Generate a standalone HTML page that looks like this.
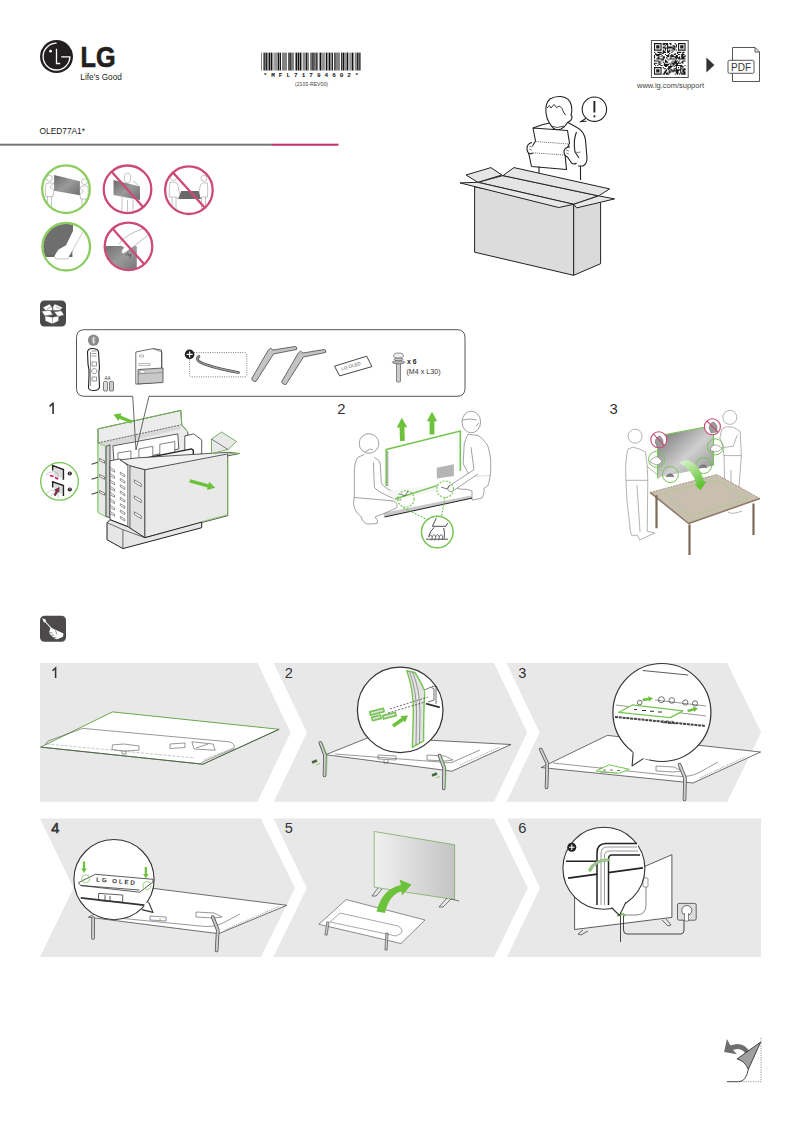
<!DOCTYPE html>
<html><head><meta charset="utf-8">
<style>
html,body{margin:0;padding:0;background:#fff;}
body{width:802px;height:1122px;overflow:hidden;position:relative;font-family:"Liberation Sans",sans-serif;}
svg{position:absolute;left:0;top:0;}
</style></head>
<body>
<svg width="802" height="1122" viewBox="0 0 802 1122" font-family="Liberation Sans, sans-serif">
<!-- ===== HEADER ===== -->
<g id="logo">
  <circle cx="56.5" cy="56.6" r="16.5" fill="#231f20"/>
  <path d="M56.6 43.2 A13.4 13.4 0 1 0 69.9 56.8 L61.2 56.8" fill="none" stroke="#fff" stroke-width="1.3"/>
  <circle cx="50.6" cy="51.2" r="1.4" fill="#fff"/>
  <path d="M56.5 48.8 V63.5 H60.2" fill="none" stroke="#fff" stroke-width="1.3"/>
  <text x="80.5" y="66.9" font-size="29.5" font-weight="bold" fill="#231f20" stroke="#231f20" stroke-width="0.7" textLength="35" lengthAdjust="spacingAndGlyphs">LG</text>
  <text x="80.3" y="79.8" font-size="8.6" fill="#231f20" textLength="41.6" lengthAdjust="spacingAndGlyphs">Life’s Good</text>
</g>
<g id="barcode"><g fill="#111"><rect x="261.30" y="52.6" width="0.52" height="17.9"/><rect x="263.17" y="52.6" width="0.52" height="17.9"/><rect x="264.21" y="52.6" width="1.35" height="17.9"/><rect x="266.08" y="52.6" width="1.35" height="17.9"/><rect x="267.95" y="52.6" width="0.52" height="17.9"/><rect x="268.99" y="52.6" width="1.35" height="17.9"/><rect x="270.87" y="52.6" width="1.35" height="17.9"/><rect x="272.74" y="52.6" width="0.52" height="17.9"/><rect x="274.61" y="52.6" width="0.52" height="17.9"/><rect x="275.65" y="52.6" width="0.52" height="17.9"/><rect x="276.69" y="52.6" width="0.52" height="17.9"/><rect x="277.73" y="52.6" width="1.35" height="17.9"/><rect x="279.60" y="52.6" width="1.35" height="17.9"/><rect x="282.30" y="52.6" width="0.52" height="17.9"/><rect x="283.34" y="52.6" width="0.52" height="17.9"/><rect x="284.38" y="52.6" width="0.52" height="17.9"/><rect x="285.42" y="52.6" width="0.52" height="17.9"/><rect x="286.46" y="52.6" width="0.52" height="17.9"/><rect x="288.33" y="52.6" width="1.35" height="17.9"/><rect x="290.20" y="52.6" width="1.35" height="17.9"/><rect x="292.08" y="52.6" width="0.52" height="17.9"/><rect x="293.12" y="52.6" width="0.52" height="17.9"/><rect x="294.99" y="52.6" width="0.52" height="17.9"/><rect x="296.03" y="52.6" width="1.35" height="17.9"/><rect x="297.90" y="52.6" width="1.35" height="17.9"/><rect x="299.77" y="52.6" width="1.35" height="17.9"/><rect x="301.64" y="52.6" width="0.52" height="17.9"/><rect x="303.51" y="52.6" width="0.52" height="17.9"/><rect x="304.55" y="52.6" width="0.52" height="17.9"/><rect x="305.59" y="52.6" width="1.35" height="17.9"/><rect x="307.46" y="52.6" width="0.52" height="17.9"/><rect x="308.50" y="52.6" width="0.52" height="17.9"/><rect x="310.37" y="52.6" width="0.52" height="17.9"/><rect x="311.41" y="52.6" width="1.35" height="17.9"/><rect x="313.29" y="52.6" width="1.35" height="17.9"/><rect x="315.16" y="52.6" width="0.52" height="17.9"/><rect x="316.20" y="52.6" width="1.35" height="17.9"/><rect x="318.90" y="52.6" width="0.52" height="17.9"/><rect x="319.94" y="52.6" width="1.35" height="17.9"/><rect x="321.81" y="52.6" width="0.52" height="17.9"/><rect x="322.85" y="52.6" width="0.52" height="17.9"/><rect x="323.89" y="52.6" width="0.52" height="17.9"/><rect x="325.76" y="52.6" width="1.35" height="17.9"/><rect x="327.63" y="52.6" width="0.52" height="17.9"/><rect x="328.67" y="52.6" width="1.35" height="17.9"/><rect x="330.54" y="52.6" width="0.52" height="17.9"/><rect x="331.58" y="52.6" width="1.35" height="17.9"/><rect x="334.29" y="52.6" width="1.35" height="17.9"/><rect x="336.16" y="52.6" width="0.52" height="17.9"/><rect x="337.20" y="52.6" width="0.52" height="17.9"/><rect x="338.24" y="52.6" width="0.52" height="17.9"/><rect x="339.28" y="52.6" width="0.52" height="17.9"/><rect x="341.15" y="52.6" width="1.35" height="17.9"/><rect x="343.02" y="52.6" width="1.35" height="17.9"/><rect x="344.89" y="52.6" width="0.52" height="17.9"/><rect x="345.93" y="52.6" width="0.52" height="17.9"/><rect x="346.97" y="52.6" width="1.35" height="17.9"/><rect x="349.68" y="52.6" width="0.52" height="17.9"/><rect x="350.71" y="52.6" width="0.52" height="17.9"/><rect x="351.75" y="52.6" width="1.35" height="17.9"/><rect x="353.63" y="52.6" width="0.52" height="17.9"/><rect x="355.50" y="52.6" width="0.52" height="17.9"/><rect x="356.54" y="52.6" width="1.35" height="17.9"/><rect x="358.41" y="52.6" width="1.35" height="17.9"/><rect x="360.28" y="52.6" width="0.52" height="17.9"/></g>
  <text x="263.6" y="76.7" font-size="6" font-family="Liberation Mono, monospace" font-weight="bold" fill="#111" textLength="95" lengthAdjust="spacing">*MFL71794602*</text>
  <text x="295" y="85.5" font-size="5.6" fill="#444" textLength="33" lengthAdjust="spacingAndGlyphs">(2103-REV00)</text>
</g>
<g id="qr"><rect x="651.4" y="40.5" width="36.8" height="37" fill="none" stroke="#555" stroke-width="1"/><path fill="#1a1a1a" d="M654.0 43.1h7.6v1.09h-7.6zM662.7 43.1h5.4v1.09h-5.4zM669.3 43.1h2.2v1.09h-2.2zM674.7 43.1h1.1v1.09h-1.1zM678.0 43.1h7.6v1.09h-7.6zM654.0 44.2h1.1v1.09h-1.1zM660.5 44.2h1.1v1.09h-1.1zM662.7 44.2h2.2v1.09h-2.2zM666.0 44.2h2.2v1.09h-2.2zM670.3 44.2h1.1v1.09h-1.1zM675.8 44.2h1.1v1.09h-1.1zM678.0 44.2h1.1v1.09h-1.1zM684.5 44.2h1.1v1.09h-1.1zM654.0 45.3h1.1v1.09h-1.1zM656.2 45.3h3.3v1.09h-3.3zM660.5 45.3h1.1v1.09h-1.1zM664.9 45.3h1.1v1.09h-1.1zM667.1 45.3h1.1v1.09h-1.1zM672.5 45.3h2.2v1.09h-2.2zM675.8 45.3h1.1v1.09h-1.1zM678.0 45.3h1.1v1.09h-1.1zM680.2 45.3h3.3v1.09h-3.3zM684.5 45.3h1.1v1.09h-1.1zM654.0 46.4h1.1v1.09h-1.1zM656.2 46.4h3.3v1.09h-3.3zM660.5 46.4h1.1v1.09h-1.1zM662.7 46.4h2.2v1.09h-2.2zM667.1 46.4h5.4v1.09h-5.4zM673.6 46.4h3.3v1.09h-3.3zM678.0 46.4h1.1v1.09h-1.1zM680.2 46.4h3.3v1.09h-3.3zM684.5 46.4h1.1v1.09h-1.1zM654.0 47.5h1.1v1.09h-1.1zM656.2 47.5h3.3v1.09h-3.3zM660.5 47.5h1.1v1.09h-1.1zM662.7 47.5h12.0v1.09h-12.0zM678.0 47.5h1.1v1.09h-1.1zM680.2 47.5h3.3v1.09h-3.3zM684.5 47.5h1.1v1.09h-1.1zM654.0 48.5h1.1v1.09h-1.1zM660.5 48.5h1.1v1.09h-1.1zM664.9 48.5h1.1v1.09h-1.1zM667.1 48.5h1.1v1.09h-1.1zM672.5 48.5h3.3v1.09h-3.3zM678.0 48.5h1.1v1.09h-1.1zM684.5 48.5h1.1v1.09h-1.1zM654.0 49.6h7.6v1.09h-7.6zM662.7 49.6h1.1v1.09h-1.1zM664.9 49.6h1.1v1.09h-1.1zM667.1 49.6h1.1v1.09h-1.1zM669.3 49.6h1.1v1.09h-1.1zM671.4 49.6h1.1v1.09h-1.1zM673.6 49.6h1.1v1.09h-1.1zM675.8 49.6h1.1v1.09h-1.1zM678.0 49.6h7.6v1.09h-7.6zM662.7 50.7h2.2v1.09h-2.2zM667.1 50.7h3.3v1.09h-3.3zM672.5 50.7h1.1v1.09h-1.1zM654.0 51.8h1.1v1.09h-1.1zM657.3 51.8h4.4v1.09h-4.4zM662.7 51.8h3.3v1.09h-3.3zM667.1 51.8h2.2v1.09h-2.2zM671.4 51.8h1.1v1.09h-1.1zM676.9 51.8h4.4v1.09h-4.4zM682.3 51.8h2.2v1.09h-2.2zM655.1 52.9h1.1v1.09h-1.1zM659.4 52.9h1.1v1.09h-1.1zM661.6 52.9h2.2v1.09h-2.2zM669.3 52.9h1.1v1.09h-1.1zM674.7 52.9h1.1v1.09h-1.1zM676.9 52.9h1.1v1.09h-1.1zM682.3 52.9h1.1v1.09h-1.1zM655.1 54.0h6.5v1.09h-6.5zM664.9 54.0h1.1v1.09h-1.1zM668.2 54.0h1.1v1.09h-1.1zM671.4 54.0h1.1v1.09h-1.1zM673.6 54.0h2.2v1.09h-2.2zM678.0 54.0h2.2v1.09h-2.2zM681.2 54.0h3.3v1.09h-3.3zM654.0 55.1h1.1v1.09h-1.1zM656.2 55.1h3.3v1.09h-3.3zM661.6 55.1h1.1v1.09h-1.1zM666.0 55.1h3.3v1.09h-3.3zM670.3 55.1h3.3v1.09h-3.3zM675.8 55.1h2.2v1.09h-2.2zM681.2 55.1h2.2v1.09h-2.2zM684.5 55.1h1.1v1.09h-1.1zM654.0 56.2h1.1v1.09h-1.1zM658.4 56.2h1.1v1.09h-1.1zM660.5 56.2h1.1v1.09h-1.1zM662.7 56.2h2.2v1.09h-2.2zM667.1 56.2h2.2v1.09h-2.2zM670.3 56.2h7.6v1.09h-7.6zM679.1 56.2h1.1v1.09h-1.1zM681.2 56.2h4.4v1.09h-4.4zM654.0 57.3h1.1v1.09h-1.1zM657.3 57.3h2.2v1.09h-2.2zM662.7 57.3h2.2v1.09h-2.2zM666.0 57.3h1.1v1.09h-1.1zM670.3 57.3h1.1v1.09h-1.1zM674.7 57.3h5.4v1.09h-5.4zM681.2 57.3h3.3v1.09h-3.3zM656.2 58.4h7.6v1.09h-7.6zM667.1 58.4h1.1v1.09h-1.1zM669.3 58.4h5.4v1.09h-5.4zM675.8 58.4h1.1v1.09h-1.1zM678.0 58.4h7.6v1.09h-7.6zM654.0 59.4h1.1v1.09h-1.1zM661.6 59.4h2.2v1.09h-2.2zM664.9 59.4h1.1v1.09h-1.1zM668.2 59.4h1.1v1.09h-1.1zM674.7 59.4h1.1v1.09h-1.1zM654.0 60.5h5.4v1.09h-5.4zM660.5 60.5h1.1v1.09h-1.1zM664.9 60.5h2.2v1.09h-2.2zM672.5 60.5h1.1v1.09h-1.1zM674.7 60.5h3.3v1.09h-3.3zM679.1 60.5h1.1v1.09h-1.1zM682.3 60.5h3.3v1.09h-3.3zM658.4 61.6h2.2v1.09h-2.2zM662.7 61.6h1.1v1.09h-1.1zM664.9 61.6h3.3v1.09h-3.3zM671.4 61.6h1.1v1.09h-1.1zM673.6 61.6h3.3v1.09h-3.3zM678.0 61.6h1.1v1.09h-1.1zM681.2 61.6h2.2v1.09h-2.2zM654.0 62.7h3.3v1.09h-3.3zM658.4 62.7h1.1v1.09h-1.1zM660.5 62.7h1.1v1.09h-1.1zM663.8 62.7h1.1v1.09h-1.1zM669.3 62.7h1.1v1.09h-1.1zM671.4 62.7h9.8v1.09h-9.8zM682.3 62.7h1.1v1.09h-1.1zM654.0 63.8h1.1v1.09h-1.1zM658.4 63.8h2.2v1.09h-2.2zM663.8 63.8h5.4v1.09h-5.4zM670.3 63.8h1.1v1.09h-1.1zM672.5 63.8h2.2v1.09h-2.2zM675.8 63.8h2.2v1.09h-2.2zM655.1 64.9h1.1v1.09h-1.1zM657.3 64.9h1.1v1.09h-1.1zM660.5 64.9h2.2v1.09h-2.2zM663.8 64.9h4.4v1.09h-4.4zM670.3 64.9h1.1v1.09h-1.1zM672.5 64.9h1.1v1.09h-1.1zM674.7 64.9h7.6v1.09h-7.6zM684.5 64.9h1.1v1.09h-1.1zM664.9 66.0h2.2v1.09h-2.2zM668.2 66.0h4.4v1.09h-4.4zM673.6 66.0h1.1v1.09h-1.1zM675.8 66.0h1.1v1.09h-1.1zM680.2 66.0h3.3v1.09h-3.3zM654.0 67.1h7.6v1.09h-7.6zM662.7 67.1h1.1v1.09h-1.1zM668.2 67.1h3.3v1.09h-3.3zM675.8 67.1h1.1v1.09h-1.1zM678.0 67.1h1.1v1.09h-1.1zM680.2 67.1h1.1v1.09h-1.1zM682.3 67.1h1.1v1.09h-1.1zM654.0 68.2h1.1v1.09h-1.1zM660.5 68.2h1.1v1.09h-1.1zM663.8 68.2h2.2v1.09h-2.2zM667.1 68.2h3.3v1.09h-3.3zM673.6 68.2h3.3v1.09h-3.3zM680.2 68.2h2.2v1.09h-2.2zM683.4 68.2h2.2v1.09h-2.2zM654.0 69.3h1.1v1.09h-1.1zM656.2 69.3h3.3v1.09h-3.3zM660.5 69.3h1.1v1.09h-1.1zM666.0 69.3h1.1v1.09h-1.1zM668.2 69.3h1.1v1.09h-1.1zM670.3 69.3h2.2v1.09h-2.2zM673.6 69.3h1.1v1.09h-1.1zM675.8 69.3h5.4v1.09h-5.4zM682.3 69.3h3.3v1.09h-3.3zM654.0 70.3h1.1v1.09h-1.1zM656.2 70.3h3.3v1.09h-3.3zM660.5 70.3h1.1v1.09h-1.1zM664.9 70.3h2.2v1.09h-2.2zM669.3 70.3h1.1v1.09h-1.1zM671.4 70.3h7.6v1.09h-7.6zM680.2 70.3h1.1v1.09h-1.1zM682.3 70.3h2.2v1.09h-2.2zM654.0 71.4h1.1v1.09h-1.1zM656.2 71.4h3.3v1.09h-3.3zM660.5 71.4h1.1v1.09h-1.1zM663.8 71.4h2.2v1.09h-2.2zM668.2 71.4h3.3v1.09h-3.3zM672.5 71.4h1.1v1.09h-1.1zM675.8 71.4h2.2v1.09h-2.2zM680.2 71.4h1.1v1.09h-1.1zM682.3 71.4h3.3v1.09h-3.3zM654.0 72.5h1.1v1.09h-1.1zM660.5 72.5h1.1v1.09h-1.1zM663.8 72.5h4.4v1.09h-4.4zM669.3 72.5h1.1v1.09h-1.1zM675.8 72.5h3.3v1.09h-3.3zM680.2 72.5h2.2v1.09h-2.2zM683.4 72.5h2.2v1.09h-2.2zM654.0 73.6h7.6v1.09h-7.6zM662.7 73.6h2.2v1.09h-2.2zM666.0 73.6h3.3v1.09h-3.3zM674.7 73.6h1.1v1.09h-1.1zM676.9 73.6h1.1v1.09h-1.1zM679.1 73.6h1.1v1.09h-1.1zM681.2 73.6h4.4v1.09h-4.4z"/>
  <text x="637" y="88.4" font-size="7.6" fill="#444" textLength="67" lengthAdjust="spacingAndGlyphs">www.lg.com/support</text>
  <polygon points="706.4,57.6 714.4,65 706.4,72.4" fill="#333"/>
  <path d="M732.5 47.5 H755 L759.5 52 V81.5 H732.5 Z" fill="#fff" stroke="#444" stroke-width="0.9"/>
  <path d="M755 47.5 V52 H759.5" fill="none" stroke="#444" stroke-width="0.9"/>
  <rect x="728" y="60.3" width="26" height="13" rx="1.5" fill="#fff" stroke="#444" stroke-width="0.9"/>
  <text x="731" y="70.6" font-size="10" fill="#333" textLength="20" lengthAdjust="spacingAndGlyphs">PDF</text>
</g>
<text x="39.5" y="134.1" font-size="9.6" fill="#222" textLength="45.5" lengthAdjust="spacingAndGlyphs">OLED77A1*</text>
<rect x="0" y="143.7" width="272" height="2" fill="#777"/>
<rect x="271.8" y="143.7" width="66.7" height="2" fill="#c0306a"/>

<!-- ===== SAFETY ICONS ===== -->
<g id="icons">
  <defs>
    <clipPath id="c1"><circle cx="66" cy="189.2" r="23"/></clipPath>
    <clipPath id="c2"><circle cx="127.5" cy="189.3" r="23"/></clipPath>
    <clipPath id="c3"><circle cx="188.9" cy="190.2" r="23"/></clipPath>
    <clipPath id="c4"><circle cx="66.2" cy="246.7" r="23"/></clipPath>
    <clipPath id="c5"><circle cx="128.5" cy="246.4" r="23"/></clipPath>
    <linearGradient id="tvg" x1="0" y1="0" x2="1" y2="1">
      <stop offset="0" stop-color="#6a6a6a"/><stop offset="0.5" stop-color="#9a9a9a"/><stop offset="1" stop-color="#6e6e6e"/>
    </linearGradient>
  </defs>
  <!-- icon 1 -->
  <g clip-path="url(#c1)">
    <g fill="#fff" stroke="#8a8a8a" stroke-width="0.5">
      <circle cx="49.5" cy="178.3" r="3"/>
      <path d="M46 183.5 Q45 190 45.5 196.5 H53 L54 190 L50 187 L54 183.5 Q51 182 46 183.5 Z M47.5 196.5 V212 M51.5 196.5 V212"/>
      <circle cx="84.5" cy="181.7" r="3"/>
      <path d="M81 186.5 Q87 185 88 187 Q88.5 193 88 199 H80.5 L80 194 L83.5 191 L80 188 Z M82 199 V212 M86 199 V212"/>
    </g>
    <polygon points="54.1,175 79.9,181.3 79.9,195.2 54.1,190.7" fill="url(#tvg)"/>
  </g>
  <circle cx="66" cy="189.2" r="23.8" fill="none" stroke="#8ccd62" stroke-width="2.3"/>
  <!-- icon 2 -->
  <g clip-path="url(#c2)">
    <g fill="none" stroke="#8a8a8a" stroke-width="0.5">
      <path d="M124.5 180 q-1-7 3-7 q4 0 3 7 q-1 3-3 3 q-2 0-3-3 M122 181 l-3 2 M133 181 l3 2 l3 4 M122 197 v16 M133 199 v14 M127.5 200 v13"/>
    </g>
    <polygon points="113.5,180 140,186.5 140,200 113.5,195" fill="url(#tvg)"/>
  </g>
  <circle cx="127.5" cy="189.3" r="23.8" fill="none" stroke="#cc4a74" stroke-width="2.3"/>
  <line x1="111.2" y1="171.2" x2="143.5" y2="207.5" stroke="#cc4a74" stroke-width="2.3"/>
  <!-- icon 3 -->
  <g clip-path="url(#c3)">
    <g fill="#fff" stroke="#8a8a8a" stroke-width="0.5">
      <circle cx="173.5" cy="177.7" r="3"/>
      <path d="M170 182.5 Q176 181.5 177.5 184 L180 195 L178 199 L176 197 H169.3 Q169 190 170 182.5 Z M172 197 V212 M176 197 V212"/>
      <circle cx="203.9" cy="178.4" r="3"/>
      <path d="M207.4 183 Q202 182 200.5 184.5 L198.5 195 L200.5 199 L202 197 H207.5 Q208 190 207.4 183 Z M201.5 197 V212 M205.5 197 V212"/>
    </g>
    <polygon points="181.2,191 198.7,191 200.8,199 178.4,199" fill="#6a6a6a"/>
  </g>
  <circle cx="188.9" cy="190.2" r="23.8" fill="none" stroke="#cc4a74" stroke-width="2.3"/>
  <line x1="172.5" y1="172" x2="205.5" y2="208.5" stroke="#cc4a74" stroke-width="2.3"/>
  <!-- icon 4 -->
  <g clip-path="url(#c4)">
    <polygon points="40,220 73,220 73,231 66,245.3 58.2,249.8 54.3,256.3 40,256.3" fill="#6e6e6e"/>
    <polygon points="69.2,256.3 72.4,250.5 72.4,256.3" fill="#6e6e6e"/>
    <path d="M40 256.3 H54.3 M69.2 256.3 H72.4" stroke="#3a3a3a" stroke-width="0.9"/>
    <path d="M82.8 232 L67.9 258.9 H57.5 Q54 258 54.3 256.3" fill="none" stroke="#888" stroke-width="0.45"/>
  </g>
  <circle cx="66.2" cy="246.7" r="23.8" fill="none" stroke="#8ccd62" stroke-width="2.3"/>
  <!-- icon 5 -->
  <g clip-path="url(#c5)">
    <polygon points="100,246.1 136.8,246.1 136.8,275 100,275" fill="url(#tvg)"/>
    <path d="M118.8 244.2 Q126 234 142.8 229 L160 225 V233 L148 235.2 L133.8 246.4 L126 252 Q122.5 255 121.5 252.5 Q121 250 124 247.5 Z" fill="#fff"/>
    <path d="M118.8 244.2 Q126 234 142.8 229 M148 235.2 L133.8 246.4 L126 252 Q122.5 255 121.5 252.5 Q121 250 124 247.5" fill="none" stroke="#777" stroke-width="0.5"/>
    <path d="M126 256 l2 -3 l1 3 l2 -2 l-1 4" fill="none" stroke="#333" stroke-width="0.5"/>
  </g>
  <circle cx="128.5" cy="246.4" r="23.8" fill="none" stroke="#cc4a74" stroke-width="2.3"/>
  <line x1="112" y1="228" x2="144.5" y2="264.5" stroke="#cc4a74" stroke-width="2.3"/>
</g>

<!-- ===== BOX + PERSON ===== -->
<g id="bigbox" stroke="#222" stroke-width="1" stroke-linejoin="round">
  <!-- person -->
  <g fill="#fff" stroke-width="1.1">
    <path d="M533 128 L543 124.5 L550 123"/>
    <path d="M567 122 L577 127.5 Q584 131 585.5 140 L587 158 Q587 164 583 166 L578 166 M580.5 166 V180 M576.5 132 Q573 140 575 152 L579 158"/>
    <path d="M574.5 152 q3 1 6 0" stroke-width="0.6"/>
    <path d="M549.5 123 q-3-4-3.5-10 q-1-10 4-14 q5-3 11-2.5 q9 1 10.5 9.5 q1 5-0.5 9 q2 2 0 5 q-2 2-3 2 q-3 5-7 7 q-7 3-11.5-6 z"/>
    <path d="M547 108 l2.5-2.5 1.5 2.5 3-3.5 2.5 3 3-1.5 q3 2 4 6 l2 3" fill="none" stroke-width="0.9"/>
    <path d="M551 126 q6 3 13 0" fill="none" stroke-width="0.8"/>
    <circle cx="594.4" cy="109.2" r="12.2" />
    <path d="M586.5 118 l-5.5 3.5 l5.5 -0.3" stroke-linejoin="miter"/>
    <path d="M594.4 101 v11.5" stroke-width="1.9"/>
    <circle cx="594.4" cy="116.3" r="1.1" fill="#222" stroke="none"/>
    <path d="M533 128 L567.5 130.5 L569.5 143 L565 154 L566.5 169.5 L531.5 166.5 L528.5 152.5 L535.5 141 Z"/>
    <path d="M535.5 141.5 L569 144 M528.5 152.5 L565 155" fill="none" stroke="#444" stroke-dasharray="1.2 0.9" stroke-width="0.7"/>
    <path d="M532 142.5 q-5 1-5 6 q0 4 3 5.5 l3-1" />
    <path d="M570 147 q-5 0-6 4 q-0.5 4 3.5 6 l4 6 q3 2 5 0" />
    <path d="M529 146 l3 1.2 M529 149 l3 1.2 M566 150 l3 1 M566 153 l3 1" fill="none" stroke-width="0.5"/>
    <path d="M539 166.5 V178" />
  </g>
  <!-- box -->
  <polygon points="474.6,186.9 474.6,252.2 573.7,275.3 573.7,204.3" fill="#dcdcdc"/>
  <polygon points="573.7,204.3 573.7,275.3 600.6,263.7 600.6,200.9" fill="#dadada"/>
  <polygon points="477.9,182.3 502.9,175.6 598.6,195.9 573.7,204.3" fill="#e4e4e4"/>
  <polygon points="502.9,175.6 513.9,167.6 609.6,188.9 598.6,195.9" fill="#e6e6e6"/>
  <polygon points="466.0,175.0 490.9,167.6 501.9,175.0 477.9,182.3" fill="#e6e6e6"/>
  <polygon points="460.0,182.9 477.9,182.3 573.7,204.3 558.7,207.5" fill="#e8e8e8"/>
  <polygon points="573.7,204.3 598.6,195.9 614.6,198.9 576.7,207.9" fill="#e8e8e8"/>
</g>

<!-- ===== UNPACK ===== -->
<g id="unpack">
  <rect x="40" y="300.5" width="26" height="26" rx="4.5" fill="#4a4a4a"/>
  <g fill="#fff" stroke="#4a4a4a" stroke-width="0.45">
    <polygon points="42.8,307.4 49.6,304.1 52.5,308 52.5,310.5 45.7,310.5"/>
    <polygon points="53,306 55,304.1 62.7,307.4 59.7,310.4 53,310.5"/>
    <polygon points="41.5,311.3 50,310.3 53,314.7 44.9,315.9"/>
    <polygon points="54,311.7 61.4,310.8 64,315.1 58,316.8"/>
    <polygon points="44.9,315.9 52.5,317.2 58.9,315.9 58.5,321 52.5,324 45.3,321"/>
    <path d="M52.5 317.2 V324 M47 309 l4 -2 M56 307 l4 1.5" fill="none"/>
  </g>
  <!-- callout -->
  <path d="M132.7 396.3 H84.5 Q76.5 396.3 76.5 388.3 V337.7 Q76.5 329.7 84.5 329.7 H457 Q465 329.7 465 337.7 V388.3 Q465 396.3 457 396.3 H149" fill="none" stroke="#555" stroke-width="1"/>
  
  <!-- remote -->
  <circle cx="93.5" cy="340.2" r="5.6" fill="#8a8a8a"/>
  <path d="M91.6 338.3 L95.2 341.8 L93.4 343.6 V336.8 L95.2 338.6 L91.6 342.1" fill="none" stroke="#fff" stroke-width="0.7"/>
  <path d="M87.5 352 Q88 348.5 92 348.5 Q98 348.5 98.5 352 L99.5 368 Q98.5 372 99 376 L99.5 387 Q99 390.5 94 390.5 Q89 390.5 88.5 388 L89 376 Q89.5 370 88 364 Z" fill="#fff" stroke="#222" stroke-width="1.1"/>
  <path d="M91.5 351 h5 M91.5 353.5 h5 M91.5 356 h5 M92 362 h4.5 v4 h-4.5 z M94.2 368.5 a2.6 2.6 0 1 0 0.1 0 M92 377 h4.5 v4 h-4.5z M90.5 352 V386" fill="none" stroke="#555" stroke-width="0.6"/>
  <rect x="103.5" y="381.5" width="4" height="9.5" rx="1" fill="#ddd" stroke="#333" stroke-width="0.6"/>
  <rect x="109.5" y="381.5" width="4" height="9.5" rx="1" fill="#ccc" stroke="#333" stroke-width="0.6"/>
  <text x="104.5" y="379.5" font-size="4.5" fill="#333">AA</text>
  <!-- manual -->
  <path d="M135.8 352 L153 348.6 L161.5 350 V382 L135.8 384.1 Z" fill="#fff" stroke="#444" stroke-width="0.8"/>
  <path d="M153 348.6 L162 352 V382" fill="none" stroke="#444" stroke-width="0.6"/>
  <path d="M139.5 355 h4 v2 h-4z M139 363.5 h11 v2 h-11z" fill="none" stroke="#777" stroke-width="0.5"/>
  <path d="M138 369.5 L163 368 V382.5 L138 384 Z" fill="#c8c8c8" stroke="#444" stroke-width="0.8"/>
  <path d="M140 370.5 h5 v2.5 h-5z" fill="#fff" stroke="#666" stroke-width="0.4"/>
  <path d="M138 374 L163 372.5" stroke="#666" stroke-width="0.5"/>
  <!-- cable holder -->
  <rect x="189.6" y="352.6" width="57.2" height="24.3" rx="2" fill="none" stroke="#444" stroke-width="0.7" stroke-dasharray="1 1.3"/>
  <circle cx="189.6" cy="354.4" r="4.8" fill="#222"/>
  <path d="M186.6 354.4 h6 M189.6 351.4 v6" stroke="#fff" stroke-width="1.2"/>
  <path d="M199 356.5 q-2 1 -1.5 3 q1 2.5 8 5 q15 5 33 8" fill="none" stroke="#333" stroke-width="2.6" stroke-linecap="round"/>
  <path d="M199 356.5 q-2 1 -1.5 3 q1 2.5 8 5 q15 5 33 8" fill="none" stroke="#999" stroke-width="1.4" stroke-linecap="round"/>
  <!-- stand legs -->
  <g stroke="#333" stroke-width="0.7" fill="#c4c4c4" stroke-linejoin="round">
    <path d="M251.5 379 L268 350.5 L270.5 348 L273 350 L295 346.5 Q298 347 296.5 349.5 L273.5 354 L256 381.5 Q253 382 251.5 379 Z"/>
    <path d="M281.5 382 L298 353.5 L300.5 351 L303 353 L324 349.5 Q327 350 325.5 352.5 L303.5 357 L286 384.5 Q283 385 281.5 382 Z"/>
  </g>
  <!-- LG OLED tag -->
  <polygon points="334.5,366.2 366.7,356.2 371.9,366.6 339.7,375.9" fill="#fff" stroke="#333" stroke-width="0.9"/>
  <text x="0" y="0" font-size="4.6" fill="#555" transform="translate(342,370.5) rotate(-17)">LG OLED</text>
  <!-- screw -->
  <g stroke="#444" stroke-width="0.6">
    <rect x="396.5" y="362" width="4" height="20" rx="1" fill="#ccc"/>
    <ellipse cx="398.5" cy="362.3" rx="6.2" ry="1.6" fill="#bbb"/>
    <ellipse cx="398.5" cy="359.3" rx="4.5" ry="1.5" fill="#ccc"/>
    <ellipse cx="398.5" cy="355.5" rx="5" ry="2.5" fill="#eee"/>
  </g>
  <text x="407" y="364.3" font-size="6.8" font-weight="bold" fill="#222">x 6</text>
  <text x="406.5" y="374" font-size="6.9" fill="#333" textLength="34" lengthAdjust="spacingAndGlyphs">(M4 x L30)</text>
</g>

<g id="sec1" stroke="#333" stroke-width="0.8" stroke-linejoin="round">
  <path d="M49.6 406.3 L53.1 403.2 V414" fill="none" stroke="#333" stroke-width="1.6"/>
  <!-- back wall -->
  <polygon points="98.0,428.9 180.8,410.4 181.8,424.9 187.8,431.9 187.8,457.9 108.0,465.8 98.0,442.9" fill="#ececec"/><path d="M98.0,511.7 L98.0,428.9 L180.8,410.4 L181.8,424.9 L187.8,431.9" fill="none" stroke="#74c551" stroke-width="0.9"/>
  <polygon points="98.0,442.9 180.8,424.9 180.8,428.9 110.0,446.3" fill="#d8d8d8" stroke="none"/><path d="M98.0,442.9 L180.8,424.9" stroke="#333" stroke-width="0.7" stroke-dasharray="2 1"/>
  <!-- left side wall -->
  <polygon points="98.0,442.9 106.0,446.3 106.0,516.7 98.0,512.7" fill="#e8e8e8" stroke="#74c551" stroke-width="0.9"/>
  <polygon points="106.0,446.3 110.0,444.9 110.0,517.7 106.0,516.7" fill="#cfcfcf"/>
  <g fill="#fff" stroke-width="0.6"><polygon points="99.6,458.5 104.6,461.0 104.6,463.2 99.6,460.7"/><polygon points="99.6,474.5 104.6,477.0 104.6,479.2 99.6,476.7"/><polygon points="99.6,490.5 104.6,493.0 104.6,495.2 99.6,492.7"/></g>
  <path d="M91.6,464.2 L98.0,462.2 M91.6,479.2 L98.0,477.2 M91.6,494.2 L98.0,492.2" stroke="#444" stroke-width="1.1"/>
  <!-- foam interior -->
  <polygon points="112.9,445.9 177.8,433.9 178.8,448.9 135.9,459.9 113.9,460.8" fill="#fff"/>
  <polygon points="117.9,452.9 130.9,450.9 130.9,459.9 117.9,460.8 " fill="#fff" stroke-width="0.6"/>
  <polygon points="138.9,448.9 152.8,446.3 152.8,456.9 138.9,459.5" fill="#fff" stroke-width="0.6"/>
  <polygon points="159.8,444.3 174.8,441.5 174.8,452.3 159.8,455.1" fill="#fff" stroke-width="0.6"/>
  <polygon points="184.8,435.9 193.7,433.9 201.7,439.9 201.7,453.9 184.8,457.9" fill="#fff"/>
  <!-- TV edge -->
  <polygon points="136.9,459.9 191.7,448.9 193.3,450.3 193.3,457.9 137.9,461.8" fill="#f4f4f4" stroke="#222" stroke-width="1.3"/>
  <!-- front foam -->
  <polygon points="110.0,460.8 119.9,458.9 127.9,465.8 127.9,526.7 110.0,519.7" fill="#fff"/>
  <g fill="#fff" stroke-width="0.5"><polygon points="110.0,467.4 114.5,470.1 114.5,472.1 110.0,469.4"/><polygon points="110.0,473.7 114.5,476.4 114.5,478.4 110.0,475.7"/><polygon points="110.0,480.0 114.5,482.7 114.5,484.7 110.0,482.0"/><polygon points="110.0,486.3 114.5,489.0 114.5,491.0 110.0,488.3"/><polygon points="110.0,492.6 114.5,495.3 114.5,497.3 110.0,494.6"/><polygon points="110.0,498.9 114.5,501.6 114.5,503.6 110.0,500.9"/><polygon points="110.0,505.2 114.5,507.9 114.5,509.9 110.0,507.2"/><polygon points="110.0,511.5 114.5,514.2 114.5,516.2 110.0,513.5"/><polygon points="120.3,472.2 124.8,474.9 124.8,476.9 120.3,474.2"/><polygon points="120.3,478.5 124.8,481.2 124.8,483.2 120.3,480.5"/><polygon points="120.3,484.8 124.8,487.5 124.8,489.5 120.3,486.8"/><polygon points="120.3,491.1 124.8,493.8 124.8,495.8 120.3,493.1"/><polygon points="120.3,497.4 124.8,500.1 124.8,502.1 120.3,499.4"/><polygon points="120.3,503.7 124.8,506.4 124.8,508.4 120.3,505.7"/><polygon points="120.3,510.0 124.8,512.7 124.8,514.7 120.3,512.0"/><polygon points="120.3,516.3 124.8,519.0 124.8,521.0 120.3,518.3"/></g>
  <!-- front box panel -->
  <polygon points="119.9,459.9 136.9,457.9 227.7,452.3 239.6,453.5 227.7,455.9 144.9,469.8 129.9,465.8" fill="#f0f0f0"/>
  <polygon points="129.9,465.8 144.9,469.8 144.9,537.7 129.9,532.7" fill="#e2e2e2"/>
  <g fill="#fff" stroke-width="0.6"><polygon points="134.3,479.8 141.3,484.0 141.3,486.6 134.3,482.4"/><polygon points="134.3,495.8 141.3,500.0 141.3,502.6 134.3,498.4"/><polygon points="134.3,511.8 141.3,516.0 141.3,518.6 134.3,514.4"/></g>
  <polygon points="144.9,469.8 227.7,453.9 227.7,515.7 144.9,537.7" fill="#e9e9e9"/>
  <path d="M227.7,453.9 L239.6,453.5" stroke="#74c551" stroke-width="0.9"/>
  <path d="M227.7,457.9 V514.7 L201.7,521.7" stroke="#74c551" stroke-width="0.8" fill="none"/>
  <!-- right flap -->
  <polygon points="211.5,439 221.5,432 236.5,441.5 228,449.5 211.5,453.5" fill="#e9e9e9" stroke="#6aa84f" stroke-width="0.9"/><path d="M211.5 439 L228 449.5" stroke="#333" stroke-width="0.6"/>
  <!-- base tray -->
  <polygon points="107.0,522.7 110.0,519.7 127.9,526.7 144.9,537.7 201.7,522.1 201.7,527.7 122.9,548.6 107.0,539.7" fill="#e6e6e6" stroke="#222" stroke-width="1"/>
  <path d="M107.0,522.7 L122.9,529.7 L122.9,548.6 M122.9,529.7 L144.9,537.7" fill="none" stroke-width="0.7"/>
  <!-- arrows -->
  <polygon fill="#6cc23a" stroke="none" points="132.6,420.4 120.6,415.6 121.6,413.2 113.5,414.5 118.4,421.1 119.3,418.7 131.4,423.6"/>
  <polygon fill="#6cc23a" stroke="none" points="189.3,482.4 207.6,487.4 206.9,489.9 215.3,487.8 209.2,481.7 208.5,484.2 190.2,479.2"/>
  <!-- inset circle -->
  <circle cx="59.5" cy="481.4" r="18.8" fill="#fff" stroke="#74c551" stroke-width="1.3"/>
  <path d="M54 467 L62 470 V478 L54 476 Z M54 483 L62 486 V494 L54 492 Z" fill="#ddd" stroke="none"/>
  <g stroke="#222" stroke-width="1.5" fill="none" stroke-linejoin="miter">
    <path d="M52.7 470.5 V465.6 L63.4 469.6 V479.8"/>
    <path d="M52.7 487.5 V481.8 L63.4 485.6 V496"/>
  </g>
  <g stroke="#999" stroke-width="0.5" fill="none"><path d="M46 474.5 q4-3 8-3 l4 2 v6 M46 494 q4-5 9-4 l3 2 v6 M50 498 l3-5"/></g>
  <path d="M50 475.5 l3.5 1 M55 477.5 l3 1.5" stroke="#d0105a" stroke-width="1.5" fill="none"/>
  <polygon points="54,495 56.5,490.5 55,490 59,487.5 58.8,492 57.8,491.2 55.6,495.5" fill="#d0105a"/>
  <circle cx="69.8" cy="473.5" r="2.1" fill="#222" stroke="none"/>
  <circle cx="69.8" cy="489.5" r="2.1" fill="#222" stroke="none"/>
  <path d="M69.8 472.2 v2.5 M68.8 489 h2" stroke="#fff" stroke-width="0.6"/>
</g><path d="M132.7 396.3 L136 450 L149 396.3" fill="none" stroke="#555" stroke-width="0.9"/>
<!--END sec1-->
<g id="sec2" stroke-linejoin="round">
  <text x="337.3" y="413.8" font-size="14.8" fill="#333">2</text>
  <!-- base -->
  <polygon points="383,513 471,495.5 472.5,498 384.5,517" fill="#c8c8c8" stroke="none"/>
  <path d="M384.5 517 L472.5 498" stroke="#222" stroke-width="1"/>
  <!-- left person -->
  <g fill="#fff" stroke="#555" stroke-width="0.55">
    <path d="M364.6 454.4 L357.7 457.4 Q354 463 354.3 474 L354.3 497.5 Q353 503 353.8 505.4 Q355 512 360.7 516.2 L363 521 Q366 525 370 524 L377 523.5 Q379 520 375 517 L385 513 L396 508.3 Q399 504 394 501 L377.4 499.5 L354.3 497.5"/>
    <path d="M374.4 457.4 Q380 460 380.3 464.2 L381.3 482.8 Q385 490 399.9 493.6 L401 500 L396 499.5 Q378 492 374.4 487.7 L373.4 462.3"/>
    <circle cx="369" cy="443.5" r="9.8"/>
    <path d="M365 452 l5-3 l3 1" fill="none"/>
  </g>
  <!-- TV -->
  <polygon points="386.2,449.5 460.3,431 460.3,471 386.2,486" fill="#fff"/><path d="M386.2 486 V449.5 L460.3 431 V471" fill="none" stroke="#74c551" stroke-width="1.6"/>
  <path d="M387.8 451 V486" stroke="#444" stroke-width="0.6"/>
  <polygon points="436.8,467.7 453.9,464.3 453.9,476.1 436.8,478.5" fill="#b5b5b5"/>
  <polygon points="386,491 437.7,485.4 440,490 395,500" fill="#f6f6f6" stroke="none"/>
  <path d="M395 499 L437.7 485.4" stroke="#74c551" stroke-width="1.4"/>
  <!-- right person -->
  <g fill="#fff" stroke="#555" stroke-width="0.55">
    <path d="M468.1 434.4 Q466 437 464.2 444.2 L463.2 463.8 L470 476.6 L490.2 476.1 Q491 470 490.7 459.9 Q489 447 486.8 444.2 Q482 437 478 435.4 Z"/>
    <path d="M470 476.6 L455.4 486.4 Q458 490 467.2 489.3 L472 491 L472 500.1 L481.9 498.1 Q485 492 483.8 488.3 Q489 486 488.7 483.4 L490.2 476.1"/>
    <path d="M471 447.2 L474 469.7 L448.5 486.4 Q446 492 452 491.5 L478 474"/>
    <ellipse cx="471.3" cy="422" rx="9.3" ry="10.8"/>
    <path d="M462.5 420 q8 -2 14 0 M476 426 l3-3" fill="none"/>
  </g>
  <polygon fill="#6cc23a" stroke="none" points="404.8,440.9 404.4,427.2 407.3,427.2 401.8,417.8 396.8,427.4 399.6,427.4 400.0,441.1"/>
  <polygon fill="#6cc23a" stroke="none" points="434.4,434.5 434.4,421.2 437.2,421.2 432.0,411.7 426.8,421.2 429.6,421.2 429.6,434.5"/>
  <!-- dashed circles -->
  <g fill="none" stroke="#74c551" stroke-width="1.1" stroke-dasharray="2 1.3">
    <circle cx="405.9" cy="499" r="8.2"/>
    <circle cx="445.1" cy="489.3" r="8.3"/>
    <path d="M403 507.5 L427 519.5 M445 497.6 L441.5 516"/>
  </g>
  <path d="M400 494 l5 2 l3-5 M441 487 l6 2 l3-4" fill="none" stroke="#444" stroke-width="0.7"/>
  <circle cx="437.3" cy="532" r="15.8" fill="#fff" stroke="#74c551" stroke-width="1.5"/>
  <g fill="none" stroke="#222" stroke-width="0.8">
    <path d="M436.3 518.1 L432.4 526.3 H445.9 L447.6 523.2"/>
    <path d="M434.1 527.4 Q430 531 428.5 537 M443.7 528 Q445 533 444.2 538.5"/>
    <path d="M429 536.5 q2-3 3 0 q1 3 -1 4 M432 537 q2-4 3.5 -1 q1 3 -1 4.5 M435.5 537 q2-4 3.5 -1 q1 3 -1 4.5 M439 537 q2-4 3.5-1 q1 3-1 4" stroke-width="0.6"/>
    <path d="M426 539.2 H448" stroke-width="0.8"/>
  </g>
</g>
</g><!--END sec2-->
<g id="sec3" stroke-linejoin="round">
  <text x="609.5" y="413.8" font-size="14.8" fill="#333">3</text>
  <defs>
    <linearGradient id="tv3" x1="0" y1="0" x2="1" y2="1">
      <stop offset="0" stop-color="#6a6a6a"/><stop offset="0.55" stop-color="#cfcfcf"/><stop offset="1" stop-color="#8a8a8a"/>
    </linearGradient>
    <linearGradient id="tv5" x1="0" y1="0" x2="1" y2="0">
      <stop offset="0" stop-color="#f0f0f0"/><stop offset="1" stop-color="#c4c4c4"/>
    </linearGradient>
    <linearGradient id="arr3" x1="0" y1="0" x2="0.6" y2="1">
      <stop offset="0" stop-color="#e4f5d8"/><stop offset="1" stop-color="#5cc22e"/>
    </linearGradient>
  </defs>
  <!-- left person -->
  <g fill="#fff" stroke="#666" stroke-width="0.5">
    <path d="M632.7 447.2 L628.1 449 Q625 460 625.8 477.9 L627 501 L630.4 531.2 L631.6 535.3 L637.4 535.3 L639.7 539.9 L654.8 533 L647.2 531.2 L647.8 480.3 L647.2 466.3 L645.5 451.9 L639.7 449 Z"/>
    <path d="M625.8 480.3 H647.8 M637 485 L640 532 M647.2 466.3 L657.1 474.5" fill="none"/>
    <circle cx="635.1" cy="436.2" r="7"/>
  </g>
  <!-- right person -->
  <g fill="#fff" stroke="#666" stroke-width="0.5">
    <path d="M726.3 426.7 L721.7 429 L719.9 438.2 L722.8 446.3 L724 455.6 L725 495 L741 495 L739 486.9 L741.4 455.6 L740.2 431.3 L733.2 427.2 Z"/>
    <path d="M724 455.6 H741.4 M737.3 434.8 L733.2 446.3 L722.8 447.5 M731 470 V495" fill="none"/>
    <circle cx="729.8" cy="417.4" r="7"/>
    <path d="M728 512 q4 3 14-1" fill="none"/>
  </g>
  <polygon points="657.5,436 713.5,425.5 713.5,465.5 657.5,478.5" fill="url(#tv3)"/>
  <path d="M657.5 449 V478.5 M657.5 436 L713.5 425.5 V465.5" fill="none" stroke="#74c551" stroke-width="1.1"/>
  <g fill="none" stroke="#74c551" stroke-width="1">
    <path d="M660 477 L680 473 A8 8 0 0 1 662 481 Z" fill="#fff" stroke="none"/>
    <circle cx="656.5" cy="459.4" r="8"/>
    <circle cx="715.3" cy="446.9" r="8"/>
    <circle cx="670.4" cy="474.5" r="8"/>
    <circle cx="703.7" cy="465.5" r="8"/>
  </g>
  <path d="M650 462 q3-6 8-5 l4 4 q-2 4-6 4 z M710 450 q2-6 7-5 l5 3 q-2 4-7 4 z" fill="#fff" stroke="#555" stroke-width="0.5"/>
  <path d="M666 477 q2-4 6-3 l2 3 M699 468 q2-4 6-3 l2 3" fill="#888" stroke="#444" stroke-width="0.5"/>
  <g fill="#fff" stroke="#c9466e" stroke-width="1.1">
    <circle cx="658.8" cy="439.7" r="8"/>
    <circle cx="712.4" cy="426.7" r="8"/>
  </g>
  <path d="M655 442 q1-6 5-6 l3 4 v6 l-6 1 z M709 428 q1-6 5-6 l3 4 v6 l-6 1 z" fill="#9a9a9a" stroke="#555" stroke-width="0.4"/>
  <path d="M653.3 434.2 L664.3 445.2 M706.9 421.2 L717.9 432.2" stroke="#c9466e" stroke-width="1.1"/>
  <!-- table -->
  <polygon points="650.1,492.4 716.7,474.5 759.9,498.5 688.6,523.5" fill="#c9bfb0"/>
  <path d="M650.1 492.4 L688.6 523.5 L759.9 498.5" fill="none" stroke="#8b7b66" stroke-width="1.6"/>
  <path d="M650.1 492.4 L716.7 474.5 L759.9 498.5" fill="none" stroke="#8b7b66" stroke-width="0.7" stroke-dasharray="2 1"/>
  <polygon points="664,493 716,480 748,499 690,516" fill="none" stroke="#9fd07a" stroke-width="1" stroke-dasharray="2 1.5"/>
  <g stroke="#7d6b57" stroke-width="2.2">
    <path d="M656.5 495.3 V528.3 M689.5 524.5 V555 M753.5 503.5 V535"/>
  </g>
  <path d="M679.4 463.1 Q684 459 688.7 460.3 Q701 466 703.8 481.4 L706.4 481.2 L700.5 490.2 L694.6 484.4 L696.6 484.3 Q693 471 679.4 463.1 Z" fill="url(#arr3)"/>
</g><!--END sec3-->
<g id="sdicon">
  <rect x="40" y="615.8" width="26" height="26" rx="4.5" fill="#4d4a4b"/>
  <path d="M42.2 618.2 L45.5 619.5 L46 622 L44 622.5 Z" fill="#fff"/>
  <path d="M44.8 621 L51.5 628.5" stroke="#fff" stroke-width="1.1"/>
  <path d="M50.5 627.5 L56 630 L63.5 633.5 L63 636.8 L58.5 638.8 L56 639.3 L53.5 637.5 L50.5 635 L49 632.5 L49.8 630 Z" fill="#fff"/>
  <path d="M49 632.5 l3.5 0.5 M50.5 635 l3.5 0.3 M53.5 637.5 l3 -0.2 M55.5 630.5 l1.5 4" stroke="#4d4a4b" stroke-width="0.6" fill="none"/>
</g>
<!-- ===== PANELS ===== -->
<g id="panels" fill="#e8e8e8">
  <polygon points="40,663 257.5,663 290.6,732.5 257.5,801.8 40,801.8"/>
  <polygon points="273.8,663 494.1,663 527.2,732.5 494.1,801.8 273.8,801.8 306.9,732.5"/>
  <polygon points="506.5,663 727.2,663 761.2,732.5 727.2,801.8 506.5,801.8 539.6,732.5"/>
  <polygon points="40,818.5 260.8,818.5 295,888 260.8,957 40,957 73.5,888"/>
  <polygon points="273.4,818.5 494.1,818.5 527.8,888 494.1,957 273.4,957 306.8,888"/>
  <polygon points="507,818.5 761,818.5 761,957 507,957 540,888"/>
</g>
<g fill="#333" font-size="14.6">
  <path d="M52.5 670.8 L55.6 668 V678" fill="none" stroke="#333" stroke-width="1.5"/>
  <text x="284.8" y="678">2</text>
  <text x="518.2" y="678">3</text>
  <text x="51.3" y="833" stroke="#333" stroke-width="0.6">4</text>
  <text x="284.8" y="833">5</text>
  <text x="518.2" y="833">6</text>
</g>
<g id="prow1" stroke-linejoin="round">
  <!-- panel 1 -->
  <polygon points="40.7,747.1 112.4,711.9 279.1,729.3 202.8,764.2" fill="#fff" stroke="#6aa84f" stroke-width="1"/>
  <g fill="none" stroke="#444" stroke-width="0.55">
    <path d="M82.8 728.4 L229.3 741.8 Q236 744 233.9 748.6 L201.2 762.7"/>
    <path d="M46.9 744 L195 758" stroke-dasharray="3 1.5" stroke="#999"/>
    <path d="M45 745 L48 741 L82.8 728.4"/>
    <path d="M112.4 744.9 L124 744 L139 746 L138.9 750.2 L124 751 L112 749.5 Z M122 751 v3 h4 v-3"/>
    <path d="M170 744 L185 743 L185 747.5 L170 748.5 Z M191.9 741.8 L213 744 L215.2 750.2 L194 749 Z M196 748 l12-4"/>
    <path d="M204 760 L233 748" stroke-dasharray="1 1"/>
  </g>
  <path d="M40.7 747.1 L202.8 764.2 L279.1 729.3" fill="none" stroke="#555" stroke-width="0.9"/>
  <!-- panel 2 -->
  <polygon points="325.7,754.7 370,737 511,744.5 451.9,771.2" fill="#fff" stroke="#333" stroke-width="0.7"/>
  <g fill="none" stroke="#444" stroke-width="0.55">
    <path d="M335 754 L440 762 Q452 764 455 761 L480 750"/>
    <path d="M378 755 l18 1 v4 l-18-1z M427 755 l18 1 l8 4 l-8 1 l-18-1z M384 760 v3 h4 v-3"/>
    <path d="M460 765 L500 747" stroke-dasharray="1 1"/>
  </g>
  <path d="M320.5 743 L325 755 L324.5 775.5" fill="none" stroke="#555" stroke-width="3.6" stroke-linejoin="round" stroke-linecap="round"/><path d="M320.5 743 L325 755 L324.5 775.5" fill="none" stroke="#cdcdcd" stroke-width="2" stroke-linejoin="round" stroke-linecap="round"/>
  <path d="M439.5 755.5 L444.2 768 L443.7 788.5" fill="none" stroke="#555" stroke-width="3.6" stroke-linejoin="round" stroke-linecap="round"/><path d="M439.5 755.5 L444.2 768 L443.7 788.5" fill="none" stroke="#cdcdcd" stroke-width="2" stroke-linejoin="round" stroke-linecap="round"/>
  <path d="M322.5 743.5 L327 755 L326.5 775" fill="none" stroke="#74c551" stroke-width="0.7"/>
  <path d="M441.5 756 L446 768 L445.5 788" fill="none" stroke="#74c551" stroke-width="0.7"/>
  <path d="M312 762.5 l5-2 M432 775.5 l5-2" stroke="#4a6a3a" stroke-width="2.6" />
  <path d="M316 765 l4-1.5 M436 778 l4-1.5" stroke="#74c551" stroke-width="0.8" />
  <circle cx="400.2" cy="709.9" r="42.8" fill="#fff" stroke="#333" stroke-width="1.2"/>
  <g stroke-width="0.7">
    <path d="M406.7 670.6 Q414 690 413.3 715 L412.3 747.3 L423.6 741 Q423.5 712 424.8 691.2 Q420 680 414.8 672.5 Z" fill="#e4e4e4" stroke="#74c551" stroke-width="1.4"/>
    <path d="M409.5 671.5 Q417 692 416.5 715 L416 745 M412.5 672 Q420 690 420 712 L419.5 743" fill="none" stroke="#444" stroke-width="0.5"/>
    <path d="M424.5 690 L431 687 L434 689 V700 L428 702" fill="#fff" stroke="#333"/>
    <path d="M432 686.5 L436 686 V704" fill="none" stroke="#333" stroke-width="0.7"/>
    <path d="M426 703.6 L439.8 707.4" fill="none" stroke="#333" stroke-width="1.8"/>
    <path d="M390 709 L428 697 M388 713 L425 702" fill="none" stroke="#333" stroke-dasharray="2 1.5"/>
    <rect x="370" y="710" width="14" height="3.5" transform="rotate(-15 377 712)" fill="#ddd" stroke="#74c551" stroke-width="1.6"/>
    <rect x="372" y="716" width="9" height="3.5" transform="rotate(-15 377 718)" fill="#ddd" stroke="#74c551" stroke-width="1.6"/>
    <rect x="383" y="714" width="13" height="3.5" transform="rotate(-15 389 716)" fill="#ddd" stroke="#74c551" stroke-width="1.6"/>
  </g>
  <polygon fill="#6cc23a" stroke="none" points="394.0,727.4 403.7,720.7 405.0,722.5 408.0,715.5 400.4,716.0 401.7,717.8 392.0,724.6"/>
  <!-- panel 3 -->
  <polygon points="541.2,767.5 607.3,735.4 760.6,752 693,783" fill="#fff" stroke="#333" stroke-width="0.7"/>
  <g fill="none" stroke="#444" stroke-width="0.55">
    <path d="M553 763 L675 776 Q690 778 700 772 L718 762"/>
    <path d="M600 768 l18 1 v4 l-18-1z M656 766 l18 1 l8 4 l-8 1 l-18-1z"/>
    <path d="M700 778 L745 757" stroke-dasharray="1 1"/>
  </g>
  <path d="M596.2 771 L609 764.8 L629.3 769.3 L619.2 773.2 Z" fill="#fff" stroke="#74c551" stroke-width="1"/><path d="M603 770 h3 M610 770 h3 M617 770.5 h3" stroke="#555" stroke-width="0.8"/>
  <path d="M540.8 749.5 L547.3 763.5 L546.5 787.5" fill="none" stroke="#555" stroke-width="3.6" stroke-linejoin="round" stroke-linecap="round"/><path d="M540.8 749.5 L547.3 763.5 L546.5 787.5" fill="none" stroke="#cdcdcd" stroke-width="2" stroke-linejoin="round" stroke-linecap="round"/>
  <path d="M679.5 764.5 L685 778 L684.5 799.5" fill="none" stroke="#555" stroke-width="3.6" stroke-linejoin="round" stroke-linecap="round"/><path d="M679.5 764.5 L685 778 L684.5 799.5" fill="none" stroke="#cdcdcd" stroke-width="2" stroke-linejoin="round" stroke-linecap="round"/>
  
  <circle cx="661.9" cy="712.5" r="49" fill="#fff" stroke="#333" stroke-width="1.2"/>
  <path d="M631.5 748 L633.2 752.5 L632.1 765.9 L643.3 758.6 L650 760 L640 752 Z" fill="#fff" stroke="none"/><path d="M633.2 752.5 L632.1 765.9 L643.3 758.6" fill="none" stroke="#333" stroke-width="1.1"/>
  
  <g stroke-width="0.7" fill="none" stroke="#333">
    <path d="M642.6 670.5 L688.3 675" stroke-width="0.8"/>
    <path d="M615.7 705 L706 716 M655 700 L706 706" stroke-width="0.5"/>
    <path d="M615 716.9 L704.8 725.9" stroke-width="2" stroke="#444" stroke-dasharray="3 0.8"/>
    <circle cx="639.7" cy="702.5" r="2.3"/><circle cx="661.4" cy="699.7" r="3"/><circle cx="671.8" cy="700.5" r="2.8"/><circle cx="685.3" cy="702.5" r="2.6"/><circle cx="695" cy="703.4" r="2.6"/>
    <path d="M662.9 719.9 v3 h4 v-3 M668 720.5 v3 h4 v-3 M673 721 v2.5 q3 1 5 -1"/>
  </g>
  <polygon points="632.2,704.9 683,710.9 670.3,717.6 618.7,712.4" fill="#fff" stroke="#74c551" stroke-width="1.2"/>
  <path d="M634 709.5 h3 M642 710.5 h4 M650 711.3 h4 M658 712 h4" stroke="#333" stroke-width="1.1"/>
  <polygon fill="#6cc23a" stroke="none" points="642.8,701.2 648.8,700.2 649.0,701.7 653.0,698.3 648.1,696.3 648.4,697.8 642.4,698.8"/>
  <polygon fill="#6cc23a" stroke="none" points="687.9,712.2 693.9,710.6 694.3,712.1 698.0,708.3 693.0,706.8 693.3,708.3 687.3,709.8"/>
</g><!--END prow1-->
<g id="prow2" stroke-linejoin="round">
  <!-- panel 4 -->
  <polygon points="88.4,917.2 150,888 286.8,905.3 218.6,933.7" fill="#fff" stroke="#333" stroke-width="0.7"/>
  <g fill="none" stroke="#444" stroke-width="0.55">
    <path d="M98 916 L200 926 Q215 928 225 922 L240 914"/>
    <path d="M150 916 l16 1 v4 l-16-1z M196 912 l18 1 l8 4 l-8 1 l-18-1z"/>
    <path d="M225 930 L280 906" stroke-dasharray="1 1"/>
  </g>
  <path d="M127 914 v4 M160 918 v4" stroke="#74c551" stroke-width="0.8"/>
  <path d="M93.2 918 L93 938" fill="none" stroke="#555" stroke-width="3.6" stroke-linejoin="round" stroke-linecap="round"/><path d="M93.2 918 L93 938" fill="none" stroke="#cdcdcd" stroke-width="2" stroke-linejoin="round" stroke-linecap="round"/>
  <path d="M212.7 917 L217.8 930 L216.6 950.5" fill="none" stroke="#555" stroke-width="3.6" stroke-linejoin="round" stroke-linecap="round"/><path d="M212.7 917 L217.8 930 L216.6 950.5" fill="none" stroke="#cdcdcd" stroke-width="2" stroke-linejoin="round" stroke-linecap="round"/>
  <path d="M148.6 902.3 L153 912.4 L141.8 909.6 Z" fill="#fff" stroke="none"/>
  <circle cx="114" cy="879.6" r="40.1" fill="#fff" stroke="#333" stroke-width="1.1"/>
  <path d="M148.6 902.3 L153 912.4 L141.8 909.6" fill="#fff" stroke="#333" stroke-width="1.1"/>
  <path d="M145 906 L147 903" stroke="#fff" stroke-width="2.5"/>
  <g stroke="#333" fill="#fff" stroke-width="0.8">
    <path d="M98.6 893.4 L122.7 895 V902.3 L98.6 900.5 Z M105 895 v6 M110 896 v6"/>
    <path d="M80.7 897.8 L144 905.1" stroke-width="1.7"/>
    <polygon points="78.4,882.7 95.3,874.3 153,879.3 153,882 139.6,892.2 80.7,885.5"/>
    <path d="M80.7 885.5 L139.6 890" fill="none"/>
  </g>
  <text x="0" y="0" font-size="6.2" font-weight="bold" fill="#333" transform="translate(96,881.5) rotate(5)" letter-spacing="1.9">LG OLED</text>
  <polygon fill="#6cc23a" stroke="none" points="82.9,861.5 82.9,868.5 81.2,868.5 84.0,873.0 86.8,868.5 85.1,868.5 85.1,861.5"/>
  <polygon fill="#6cc23a" stroke="none" points="144.7,867.0 144.7,874.0 143.1,874.0 145.8,878.5 148.6,874.0 146.9,874.0 146.9,867.0"/>
  <circle cx="85.7" cy="878.8" r="4" fill="none" stroke="#74c551" stroke-width="0.7"/>
  <circle cx="146.9" cy="885.5" r="4" fill="none" stroke="#74c551" stroke-width="0.7"/>
  <!-- panel 5 -->
  <polygon points="374.2,831.5 454.6,844.7 454.6,899.6 374.2,887.2" fill="url(#tv5)" stroke="#6aa84f" stroke-width="0.7"/>
  <path d="M378 888 l-6 8 h4 l6-7 M447 898 l-8 9 h4 l8-8 l8 2" fill="none" stroke="#555" stroke-width="0.8"/>
  <polygon points="318.8,924.3 346.2,899.6 425,920 401,943.5" fill="#fff" stroke="#444" stroke-width="0.6"/>
  <path d="M330 922 L340 913 L398 926 Q405 930 400 934 L396 936 Z" fill="none" stroke="#555" stroke-width="0.5"/>
  <polygon points="326.9,921.8 324.9,934.8 327.1,935.2 329.1,922.2" fill="#c8c8c8" stroke="#444" stroke-width="0.6"/>
  <polygon points="385.9,932.9 384.9,949.9 387.1,950.1 388.1,933.1" fill="#c8c8c8" stroke="#444" stroke-width="0.6"/>
  <path d="M376.5 911.5 Q382 889 401 885 L399.5 879.5 L411.5 884.5 L402 895.5 L401.5 891 Q389 895 385 913 Z" fill="#6cc23a"/>
  <!-- panel 6 -->
  <polygon points="574.6,896.8 671.9,854.7 671.9,917.4 574.6,929.5" fill="#fff" stroke="#333" stroke-width="0.8"/>
  <path d="M583 930 l-5 4 l3 1 l7-4 M662 920 l6 6 l3-1 l-5-6" fill="none" stroke="#444" stroke-width="0.8"/>
  <path d="M620.5 905 V942 M623.5 915 V930 Q623.5 934 627 934 H681 Q684 934 684 930 V920" fill="none" stroke="#333" stroke-width="0.9"/>
  <path d="M618 905 q0 10 8 10 h10 q10 0 10-10 v-12 M646 893 v-12" fill="none" stroke="#555" stroke-width="0.7"/>
  <rect x="643" y="878" width="5" height="9" rx="1" fill="#fff" stroke="#555" stroke-width="0.6"/>
  <rect x="677.5" y="903.4" width="18.7" height="16.8" rx="1.5" fill="#ddd" stroke="#444" stroke-width="0.8"/>
  <circle cx="686.8" cy="910.5" r="5" fill="#fff" stroke="#444" stroke-width="0.8"/>
  <path d="M684.5 913 v8 h4 v-8" fill="#fff" stroke="#444" stroke-width="0.6"/>
  <path d="M617 916 l6-2 l2 2" fill="none" stroke="#74c551" stroke-width="1.8"/>
  <path d="M611 904 L619.5 915.5 L628 904 Z" fill="#fff" stroke="none"/>
  <circle cx="603.9" cy="868.3" r="41" fill="#fff" stroke="#333" stroke-width="1.1"/>
  <path d="M611.5 907.5 L619.5 915.5 L626 902" fill="#fff" stroke="#333" stroke-width="1.1"/>
  <path d="M612 903 L626 900" stroke="#fff" stroke-width="3"/>
  <g fill="none" stroke="#222">
    <path d="M566 861.3 H600" stroke-width="1.4"/>
    <path d="M568.1 878.1 L642.9 867.8" stroke-width="1.8"/>
    <path d="M602.75 906 V855 Q602.75 849.2 609 849.2 H638" stroke="#fff" stroke-width="11"/><path d="M597 905 V853 Q597 843.5 606 843.5 H637" stroke-width="1.5"/><path d="M608.5 905 V859 Q608.5 855 612 855 H640" stroke-width="1.5"/><path d="M601 905 V854 Q601 847 607 847 H637 M604.5 905 V856 Q604.5 851 609.5 851 H638" stroke-width="0.6" stroke="#555"/>
  </g>
  <path d="M590 870 Q595 860 608 860" fill="none" stroke="#74c551" stroke-width="3.2" stroke-linecap="round"/>
  <path d="M590 870 Q595 860 608 860" fill="none" stroke="#bbb" stroke-width="1.3" stroke-linecap="round"/>
  <circle cx="571.8" cy="847.2" r="4.5" fill="#222"/>
  <path d="M569 847.2 h5.6 M571.8 844.4 v5.6" stroke="#fff" stroke-width="1.1"/>
</g><!--END prow2-->
<g id="fold">
  <path d="M741 1081.7 H761 V1037" fill="none" stroke="#888" stroke-width="0.9" stroke-dasharray="1.2 1.2"/>
  <path d="M727 1081.7 H738.7 Q746 1081.7 748.3 1069.4" fill="none" stroke="#333" stroke-width="0.9"/>
  <path d="M726.9 1039.1 L724.1 1052 L737 1054.2 L733 1050 Q742 1046 748 1057 L751 1054 Q744 1040 730.5 1045.5 Z" fill="#6e6e6e"/>
  <path d="M760.7 1042 L737 1059 Q745 1061 748.3 1069.4 Z" fill="#a0a0a0" stroke="#222" stroke-width="0.8"/>
</g><!--END fold-->
<!--ROWS-->
</svg>
</body></html>
